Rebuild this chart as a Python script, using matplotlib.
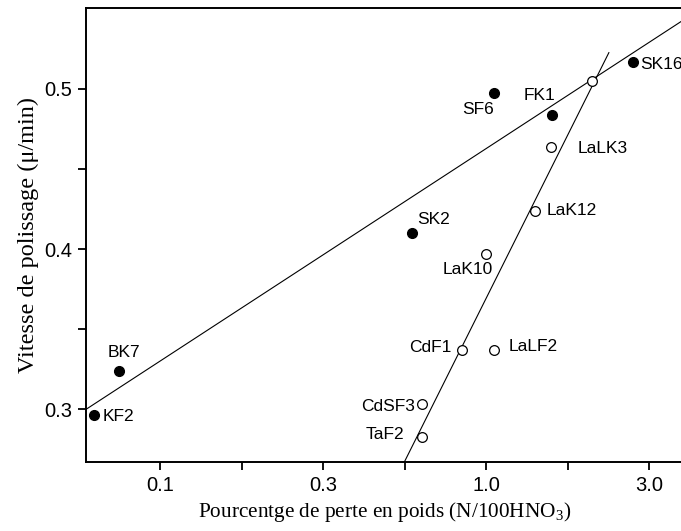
import numpy as np
import matplotlib
matplotlib.use('Agg')
import matplotlib.pyplot as plt

plt.rcParams['font.family'] = ['Liberation Sans', 'DejaVu Sans']
plt.rcParams['mathtext.default'] = 'regular'

# --- data (x: % weight loss, log scale; y: polishing rate) ---
filled_names = ['KF2', 'BK7', 'SK2', 'SF6', 'FK1', 'SK16']
filled_x = [0.0629, 0.0748, 0.594, 1.058, 1.59, 2.82]
filled_y = [0.2964, 0.3238, 0.4102, 0.4975, 0.4836, 0.517]

open_names = ['', 'LaLK3', 'LaK12', 'LaK10', 'CdF1', 'LaLF2', 'CdSF3', 'TaF2']
open_x = [2.12, 1.58, 1.41, 1.0, 0.842, 1.058, 0.635, 0.635]
open_y = [0.5052, 0.4638, 0.4238, 0.3969, 0.3367, 0.3367, 0.3031, 0.2827]

# fitted lines (end points)
line1_x = [0.0593, 4.05]
line1_y = [0.2998, 0.5434]
line2_x = [0.5615, 2.38]
line2_y = [0.2669, 0.5227]

xticks = [10**-1, 10**-0.5, 10**0, 10**0.5]
xticklabels = ['0.1', '0.3', '1.0', '3.0']
yticks = [0.3, 0.4, 0.5]
yticklabels = ['0.3', '0.4', '0.5']

# label offsets in pixels (dx, dy, ha)
label_pos = {
    'KF2': (8, 0, 'left'), 'BK7': (5, 20, 'center'), 'SK2': (21, 15, 'center'),
    'SF6': (0, -15, 'right'), 'FK1': (-12, 21, 'center'), 'SK16': (7, -1, 'left'),
    'LaLK3': (27, 0, 'left'), 'LaK12': (12, 2, 'left'), 'LaK10': (7, -14, 'right'),
    'CdF1': (-10, 4, 'right'), 'LaLF2': (15, 5, 'left'), 'CdSF3': (-7, -1, 'right'),
    'TaF2': (-18, 4, 'right'),
}

fig = plt.figure(figsize=(6.81, 5.31), dpi=100)
ax = fig.add_axes([86/681, 69/531, 598/681, 454/531])

ax.plot(line1_x, line1_y, color='black', lw=0.8)
ax.plot(line2_x, line2_y, color='black', lw=0.8)

ax.plot(filled_x, filled_y, 'o', ms=7, color='black', ls='none', zorder=3)
ax.plot(open_x, open_y, 'o', ms=7, mfc='white', mec='black', mew=0.9, ls='none', zorder=3)

for names, xs, ys in [(filled_names, filled_x, filled_y), (open_names, open_x, open_y)]:
    for n, x, y in zip(names, xs, ys):
        if not n:
            continue
        dx, dy, ha = label_pos[n]
        ax.annotate(n, (x, y), xytext=(dx, dy), textcoords='offset pixels',
                    ha=ha, va='center_baseline', fontsize=12.5)

ax.set_xscale('log')
ax.set_xlim(10**-1.227, 10**0.607)
ax.set_ylim(0.2669, 0.5506)

ax.set_xticks(xticks)
ax.set_xticklabels(xticklabels)
ax.set_xticks([10**-0.75, 10**-0.25, 10**0.25], minor=True)
ax.xaxis.set_minor_formatter(matplotlib.ticker.NullFormatter())
ax.set_yticks(yticks)
ax.set_yticklabels(yticklabels)
ax.set_yticks([0.35, 0.45], minor=True)

ax.tick_params(which='both', direction='out', length=6, width=1.3, labelsize=14.5, pad=4)
ax.spines['right'].set_visible(False)
for s in ['left', 'bottom', 'top']:
    ax.spines[s].set_linewidth(1.4)

ax.set_xlabel('Pourcentge de perte en poids (N/100HNO$_3$)', family='Liberation Serif',
              fontsize=15.3, labelpad=4)
ax.set_ylabel('Vitesse de polissage (\u03bc/min)', family='Liberation Serif',
              fontsize=17.5, labelpad=4)

fig.savefig('out.png', dpi=100)
